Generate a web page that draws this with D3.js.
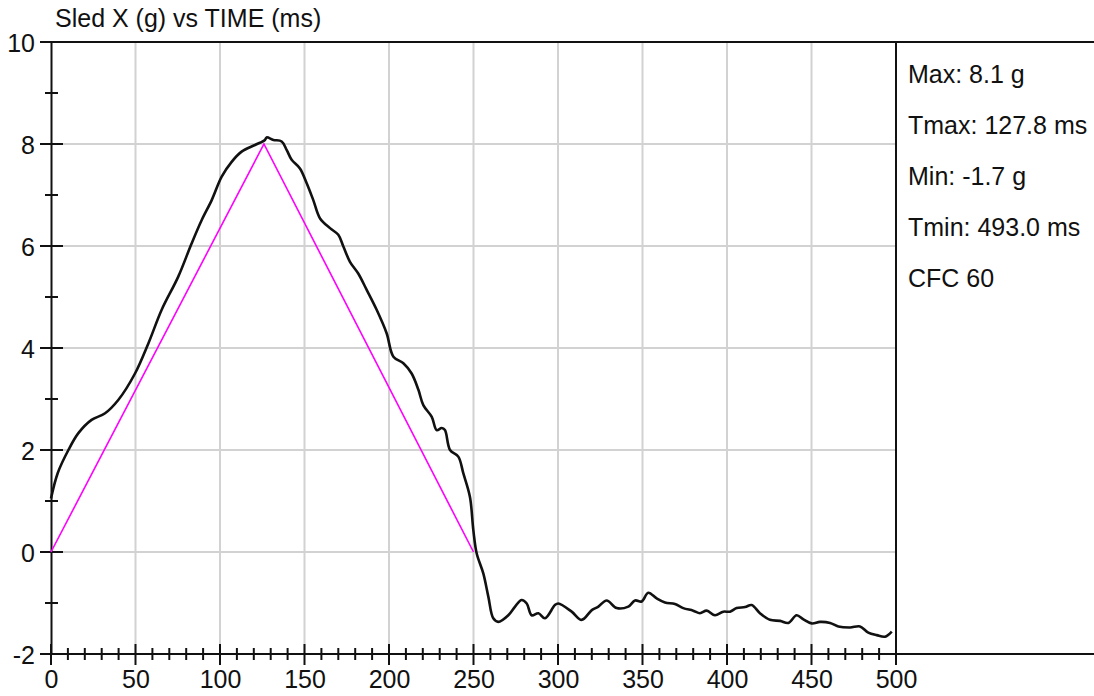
<!DOCTYPE html>
<html>
<head>
<meta charset="utf-8">
<script src="https://cdn.jsdelivr.net/npm/d3@7"></script>
<style>
html,body{margin:0;padding:0;background:#fff;}
svg{display:block;}
text{font-family:"Liberation Sans",Arial,sans-serif;fill:#111;}
</style>
</head>
<body>
<svg id="chart" width="1094" height="696"></svg>
<script>
const title = "Sled X (g) vs TIME (ms)";
const xTicks = [0,50,100,150,200,250,300,350,400,450,500];
const yTicks = [-2,0,2,4,6,8,10];
const statsLabels = ["Max: 8.1 g","Tmax: 127.8 ms","Min: -1.7 g","Tmin: 493.0 ms","CFC 60"];

// corridor (magenta)
const corridorT = [0,126,250];
const corridorV = [0,8.0,0];

// measured signal (time ms, g)
const sigT = [0,4,10.3,16.2,24,32,39.8,49.7,57.6,65.5,75.3,83.2,89.2,95.1,101,106.9,112.8,120.7,126.6,
127.6,131.6,136.5,139.5,142.4,147.3,151.3,155.2,159.2,165.1,170,173,176.9,181.8,186.8,192.7,198.6,202.6,208.5,213.4,217.4,220.3,225.3,228.2,231.2,233.1,236.1,241,244,247.9,249.9,251.9,
255.8,258.8,261.7,264.7,270.6,274.6,278.5,281.5,284.4,288.4,292.3,298.2,300.2,308.1,314,320,323.9,328.8,334.7,341.6,345.6,349.5,353.4,358.4,363.3,369.2,374.1,
380,384,388,392.9,397.8,401.8,405.7,410.7,414.6,419.5,425.4,431.4,436.3,441.2,445.2,450.1,455,461,465.9,472.8,478.7,483.6,488.6,493.5,497.5];
const sigV = [1.05,1.55,2.0,2.33,2.59,2.72,2.98,3.5,4.09,4.75,5.40,6.05,6.51,6.90,7.36,7.65,7.85,7.98,8.08,
8.13,8.08,8.05,7.88,7.69,7.52,7.23,6.90,6.54,6.35,6.22,5.99,5.69,5.46,5.14,4.75,4.29,3.83,3.70,3.50,3.18,2.88,2.65,2.39,2.43,2.39,2.0,1.87,1.54,1.08,0.43,-0.03,
-0.42,-0.88,-1.30,-1.37,-1.24,-1.07,-0.94,-1.01,-1.24,-1.20,-1.30,-1.04,-1.01,-1.17,-1.33,-1.14,-1.07,-0.95,-1.10,-1.07,-0.95,-0.97,-0.80,-0.91,-0.99,-1.02,-1.10,
-1.15,-1.20,-1.15,-1.24,-1.17,-1.17,-1.10,-1.08,-1.04,-1.20,-1.33,-1.35,-1.39,-1.24,-1.32,-1.40,-1.37,-1.39,-1.46,-1.48,-1.46,-1.58,-1.63,-1.66,-1.56];

(function(){
const svg = d3.select("#chart");
const pL = 51, pR = 896, pT = 42, pB = 654, W = 1094;
const FS = "25px";
const fmt = d => String(d);
const x = d3.scaleLinear().domain([0,500]).range([pL,pR]);
const y = d3.scaleLinear().domain([-2,10]).range([pB,pT]);

// grid
const grid = svg.append("g").attr("stroke","#d2d2d2").attr("stroke-width",2);
grid.selectAll(".gx").data(xTicks.filter(d=>d>0&&d<500)).enter().append("line")
  .attr("x1",d=>x(d)).attr("x2",d=>x(d)).attr("y1",pT).attr("y2",pB);
grid.selectAll(".gy").data(yTicks.filter(d=>d>-2&&d<10)).enter().append("line")
  .attr("x1",pL).attr("x2",pR).attr("y1",d=>y(d)).attr("y2",d=>y(d));

// frame lines
const frame = svg.append("g").attr("stroke","#111").attr("stroke-width",2).attr("fill","none");
frame.append("line").attr("x1",pL).attr("x2",W).attr("y1",pT).attr("y2",pT);
frame.append("line").attr("x1",pL).attr("x2",W).attr("y1",pB).attr("y2",pB);
frame.append("line").attr("x1",pR).attr("x2",pR).attr("y1",pT).attr("y2",pB);

// y axis
const yAxis = d3.axisLeft(y).tickValues(yTicks).tickSize(0).tickFormat(fmt);
const gy = svg.append("g").attr("transform",`translate(${pL},0)`).call(yAxis);
gy.select(".domain").attr("stroke","#111").attr("stroke-width",2);
gy.selectAll("text").attr("x",-16).attr("dy","0.36em").style("font-size",FS).attr("fill","#111");
const yMinor = d3.range(-1,10,2);
gy.selectAll(".ymin").data(yMinor).enter().append("line")
  .attr("x1",-6).attr("x2",7).attr("y1",d=>y(d)).attr("y2",d=>y(d)).attr("stroke","#111").attr("stroke-width",2);
gy.selectAll(".ymaj").data(yTicks).enter().append("line")
  .attr("x1",-11).attr("x2",12).attr("y1",d=>y(d)).attr("y2",d=>y(d)).attr("stroke","#111").attr("stroke-width",2);

// x axis
const xAxis = d3.axisBottom(x).tickValues(xTicks).tickSize(0).tickFormat(fmt);
const gx = svg.append("g").attr("transform",`translate(0,${pB})`).call(xAxis);
gx.select(".domain").remove();
gx.selectAll("text").attr("y",34).attr("dy",0).style("font-size",FS).attr("fill","#111");
const xMinor = d3.range(10,500,10).filter(d=>d%50!==0);
gx.selectAll(".xmin").data(xMinor).enter().append("line")
  .attr("x1",d=>x(d)).attr("x2",d=>x(d)).attr("y1",-6).attr("y2",6).attr("stroke","#111").attr("stroke-width",2);
gx.selectAll(".xmaj").data(xTicks).enter().append("line")
  .attr("x1",d=>x(d)).attr("x2",d=>x(d)).attr("y1",-10).attr("y2",11).attr("stroke","#111").attr("stroke-width",2);

// corridor
svg.append("path")
  .datum(corridorT.map((t,i)=>[t,corridorV[i]]))
  .attr("fill","none").attr("stroke","#ff00ff").attr("stroke-width",1.6)
  .attr("d",d3.line().x(d=>x(d[0])).y(d=>y(d[1])));

// signal
svg.append("path")
  .datum(sigT.map((t,i)=>[t,sigV[i]]))
  .attr("fill","none").attr("stroke","#111").attr("stroke-width",2.6).attr("stroke-linejoin","round")
  .attr("d",d3.line().curve(d3.curveCatmullRom.alpha(0.5)).x(d=>x(d[0])).y(d=>y(d[1])));

// title
svg.append("text").attr("x",55).attr("y",27).style("font-size",FS).text(title);

// stats
svg.selectAll(".stat").data(statsLabels).enter().append("text")
  .attr("x",908).attr("y",(d,i)=>83+i*51).style("font-size",FS).text(d=>d);
})();
</script>
</body>
</html>
